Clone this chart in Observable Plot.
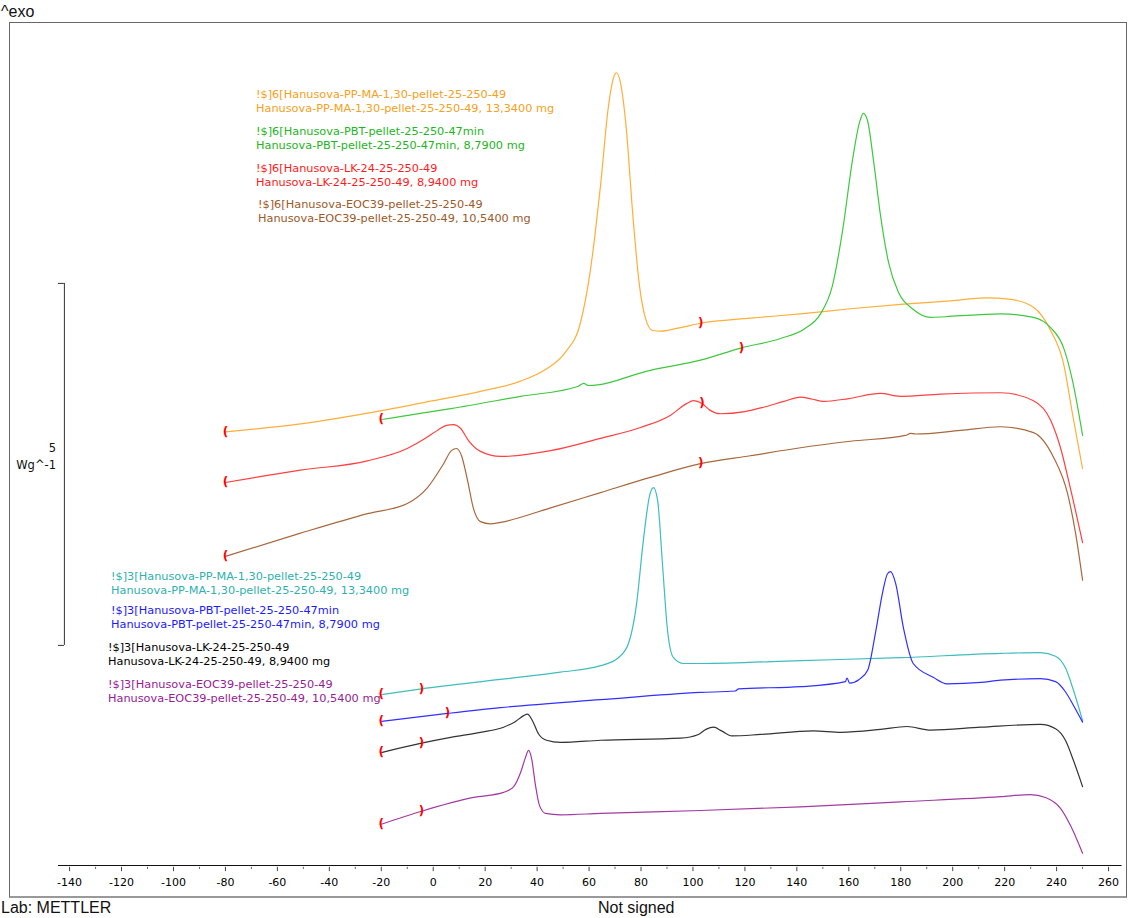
<!DOCTYPE html>
<html><head><meta charset="utf-8">
<script src="https://cdn.jsdelivr.net/npm/d3@7"></script>
<script src="https://cdn.jsdelivr.net/npm/@observablehq/plot@0.6"></script>
<style>
html,body{margin:0;padding:0;background:#fff;}
#page{position:relative;width:1128px;height:918px;overflow:hidden;font-family:"Liberation Sans",Arial,sans-serif;}
#frame{position:absolute;left:9px;top:22px;width:1116px;height:873px;border:1px solid #666;border-bottom:2px solid #999;}
#chart{position:absolute;left:0;top:0;}
.lbl{position:absolute;white-space:nowrap;font-family:"DejaVu Sans",sans-serif;font-size:11.3px;line-height:14px;}
.hdr{position:absolute;white-space:nowrap;font-family:"Liberation Sans",Arial,sans-serif;font-size:16px;line-height:18px;color:#111;}
</style></head>
<body><div id="page">
<div id="frame"></div>
<div class="hdr" style="left:1px;top:3px;">^exo</div>
<div class="hdr" style="left:1px;top:899px;">Lab: METTLER</div>
<div class="hdr" style="left:598px;top:899px;">Not signed</div>
<div id="chart"></div>
</div>
<script>
// ---- data: temperature (°C) vs heat flow (W/g, with display offsets) ----
const ppma6 = [[-80,5.99],[-51.1,6.10],[-20.3,6.28],[0,6.42],[18.2,6.55],[33.6,6.69],[43.2,6.85],[50.9,7.09],[56.7,7.50],[60.5,8.22],[64.4,9.39],[67.5,10.50],[69.4,10.88],[70.6,10.95],[72.1,10.81],[74.4,10.15],[76.7,9.05],[79.4,8.01],[81.7,7.56],[84.4,7.39],[87.5,7.38],[95.2,7.43],[102.9,7.49],[122.1,7.56],[141.4,7.62],[160.6,7.69],[179.9,7.75],[199.2,7.80],[212.7,7.84],[222.2,7.82],[231.1,7.71],[237.7,7.39],[242.7,6.93],[246.1,6.24],[250,5.48]];
const pbt6 = [[-20,6.16],[6.7,6.31],[33.6,6.48],[55.9,6.62],[57.9,6.66],[59.8,6.63],[83.6,6.84],[102.9,6.98],[118.7,7.15],[133.7,7.28],[143.3,7.42],[149.1,7.62],[153.7,8.01],[157.6,8.77],[161.4,9.74],[164.1,10.26],[165.6,10.39],[167.2,10.29],[169.5,9.74],[172.2,8.98],[175.3,8.33],[179.2,7.91],[184.5,7.69],[191.5,7.57],[197.2,7.58],[210.7,7.61],[218.4,7.62],[231.1,7.57],[237.7,7.43],[242.7,7.15],[246.1,6.70],[250,5.94]];
const lk6 = [[-80,5.29],[-51.1,5.46],[-25.3,5.59],[-10,5.76],[-3,5.90],[2,6.02],[5.1,6.08],[7.8,6.09],[10.5,6.04],[13.6,5.87],[18.2,5.72],[25.9,5.65],[45.2,5.73],[64.4,5.90],[79.8,6.05],[91.4,6.22],[97.5,6.38],[100.2,6.42],[103.5,6.38],[106.5,6.29],[110.5,6.24],[120,6.27],[127.2,6.33],[135,6.41],[141.4,6.47],[146,6.44],[150.3,6.41],[160,6.45],[172.2,6.52],[179.9,6.48],[195.3,6.51],[218.4,6.53],[231.1,6.42],[237.7,6.15],[241.5,5.77],[244.6,5.32],[250,4.46]];
const eoc6 = [[-80,4.27],[-51.1,4.59],[-25.3,4.86],[-10,5.00],[-2.2,5.22],[4,5.55],[7,5.73],[9,5.76],[10.9,5.66],[13.2,5.32],[15.5,4.93],[18.2,4.75],[22,4.72],[25.9,4.74],[45.2,4.94],[64.4,5.15],[83.6,5.36],[102.9,5.55],[122.1,5.66],[141.4,5.77],[160.6,5.86],[181.8,5.94],[183.8,5.97],[185.7,5.96],[203,6.01],[218.4,6.06],[231.1,5.98],[238.8,5.64],[244.2,5.14],[247.3,4.59],[250,3.94]];
const ppma3 = [[-20,2.36],[-4.5,2.44],[25.9,2.57],[49,2.67],[64.4,2.76],[71.3,2.87],[75.2,3.07],[78.2,3.59],[80.9,4.49],[83.3,5.11],[84.8,5.22],[86.4,5.04],[88.3,4.14],[90.2,3.25],[92.5,2.87],[96.4,2.79],[102.9,2.79],[141.4,2.83],[179.9,2.87],[218.4,2.93],[233.8,2.94],[239.6,2.89],[243.4,2.73],[246.5,2.42],[250,2.00]];
const pbt3 = [[-20,1.99],[5.5,2.10],[25.9,2.18],[64.4,2.29],[102.9,2.39],[116.2,2.41],[117.6,2.44],[141.4,2.47],[158.7,2.54],[159.3,2.59],[160.3,2.52],[164,2.57],[167.3,2.70],[170.3,3.22],[173,3.77],[174.9,4.03],[176.1,4.06],[178,3.90],[181.1,3.27],[184.8,2.79],[192.5,2.60],[197.8,2.51],[210.9,2.53],[218.4,2.56],[233.8,2.58],[239.6,2.54],[243.4,2.40],[246.5,2.21],[250,1.98]];
const lk3 = [[-20,1.56],[-4.5,1.69],[6.7,1.77],[18.2,1.84],[27.1,1.91],[31.7,1.99],[34.8,2.07],[36.3,2.09],[38.2,2.00],[40.5,1.82],[43.6,1.73],[49,1.70],[64.4,1.73],[95.2,1.76],[102.1,1.81],[105,1.88],[108,1.91],[111,1.86],[115,1.79],[126,1.81],[146.4,1.86],[157,1.84],[172.2,1.88],[182.4,1.92],[191.5,1.87],[210.9,1.91],[233.8,1.95],[239.6,1.89],[243.4,1.73],[246.5,1.45],[250,1.09]];
const eoc3 = [[-20,0.57],[-4.5,0.75],[15.5,0.94],[27.1,1.01],[31,1.09],[33.6,1.28],[35.5,1.49],[36.7,1.59],[37.8,1.49],[39.4,1.10],[40.9,0.83],[43.2,0.72],[49,0.70],[64.4,0.72],[102.9,0.76],[141.4,0.81],[179.9,0.88],[218.4,0.95],[229.9,0.98],[235.7,0.94],[241.5,0.79],[245.4,0.55],[250,0.17]];

const seriesData = [ppma6, pbt6, lk6, eoc6, ppma3, pbt3, lk3, eoc3];
const seriesKeys = ["ppma6","pbt6","lk6","eoc6","ppma3","pbt3","lk3","eoc3"];
const lineColors = ["#FFAE3A","#3FC83F","#FF4040","#A8683C","#3DBDBD","#3030FF","#333333","#A23AA2"];
const textColors = ["#F5A020","#22B522","#FF1A1A","#9C5A2A","#2FB0B0","#1A1AFF","#000000","#951C95"];
const limitTemps = [103, 118.7, 103.5, 103, -4.5, 5.5, -4.5, -4.5];
const legendTitles = [
  "!$]6[Hanusova-PP-MA-1,30-pellet-25-250-49",
  "!$]6[Hanusova-PBT-pellet-25-250-47min",
  "!$]6[Hanusova-LK-24-25-250-49",
  "!$]6[Hanusova-EOC39-pellet-25-250-49",
  "!$]3[Hanusova-PP-MA-1,30-pellet-25-250-49",
  "!$]3[Hanusova-PBT-pellet-25-250-47min",
  "!$]3[Hanusova-LK-24-25-250-49",
  "!$]3[Hanusova-EOC39-pellet-25-250-49"];
const legendSamples = [
  "Hanusova-PP-MA-1,30-pellet-25-250-49, 13,3400 mg",
  "Hanusova-PBT-pellet-25-250-47min, 8,7900 mg",
  "Hanusova-LK-24-25-250-49, 8,9400 mg",
  "Hanusova-EOC39-pellet-25-250-49, 10,5400 mg",
  "Hanusova-PP-MA-1,30-pellet-25-250-49, 13,3400 mg",
  "Hanusova-PBT-pellet-25-250-47min, 8,7900 mg",
  "Hanusova-LK-24-25-250-49, 8,9400 mg",
  "Hanusova-EOC39-pellet-25-250-49, 10,5400 mg"];
const majorTicks = [-140,-120,-100,-80,-60,-40,-20,0,20,40,60,80,100,120,140,160,180,200,220,240,260];
const minorTicks = [-130,-110,-90,-70,-50,-30,-10,10,30,50,70,90,110,130,150,170,190,210,230,250];
const scaleBarValue = 5;      // W/g
const scaleBarBase = 3.04;

// ---- build tables ----
const rows = seriesData.flatMap((s, i) => s.map(([t, v]) => ({t, v, key: seriesKeys[i]})));
const interp = (s, t) => {
  for (let k = 1; k < s.length; k++) {
    if (t <= s[k][0]) { const [t0, v0] = s[k-1], [t1, v1] = s[k]; return v0 + (v1 - v0) * (t - t0) / (t1 - t0); }
  }
  return s[s.length-1][1];
};
const markers = seriesData.flatMap((s, i) => [
  {t: s[0][0], v: s[0][1], txt: "("},
  {t: limitTemps[i], v: interp(s, limitTemps[i]), txt: ")"}
]);

const chart = Plot.plot({
  width: 1128, height: 918,
  marginLeft: 60, marginRight: 8, marginTop: 22, marginBottom: 53,
  x: {domain: [-143.5, 264.6]},
  y: {domain: [0, 11.644], axis: null},
  color: {domain: seriesKeys, range: lineColors},
  style: {background: "transparent", fontFamily: "DejaVu Sans, sans-serif", fontSize: "11px", overflow: "visible", color: "#000"},
  marks: [
    Plot.ruleY([0], {x1: -144.3, x2: 265.2, stroke: "#111", strokeWidth: 1}),
    Plot.ruleX(majorTicks, {y1: -0.025, y2: -0.085, stroke: "#444"}),
    Plot.ruleX(minorTicks, {y1: -0.025, y2: -0.055, stroke: "#666"}),
    Plot.axisX({ticks: majorTicks, tickSize: 0, tickPadding: 13, tickFormat: d => String(d), label: null, fontSize: 11}),
    Plot.ruleX([-142], {y1: scaleBarBase, y2: scaleBarBase + scaleBarValue, stroke: "#333"}),
    Plot.ruleY([scaleBarBase, scaleBarBase + scaleBarValue], {x1: -144.3, x2: -142, stroke: "#333"}),
    Plot.line(rows, {x: "t", y: "v", z: "key", stroke: "key", strokeWidth: 1.2, curve: "monotone-x"}),
    Plot.text(markers, {x: "t", y: "v", text: "txt", fill: "#ff0000", fontWeight: "bold", fontSize: 12, fontFamily: "DejaVu Sans"})
  ]
});
document.getElementById("chart").appendChild(chart);

// ---- legend & scale-bar labels (layout) ----
const page = document.getElementById("page");
const legendPos = [[256,88],[256,125],[256,162],[258,198],[111,570],[111,604],[108,641],[108,678]];
legendPos.forEach(([x, y], i) => {
  const d = document.createElement("div");
  d.className = "lbl";
  d.style.left = x + "px"; d.style.top = y + "px"; d.style.color = textColors[i];
  d.innerHTML = legendTitles[i] + "<br>" + legendSamples[i];
  page.appendChild(d);
});
const sb = document.createElement("div");
sb.className = "lbl";
sb.style.cssText = "right:1072px;top:440px;text-align:right;color:#111;line-height:17px;font-size:11.5px;";
sb.innerHTML = scaleBarValue + "<br>Wg^-1";
page.appendChild(sb);
</script>
</body></html>
